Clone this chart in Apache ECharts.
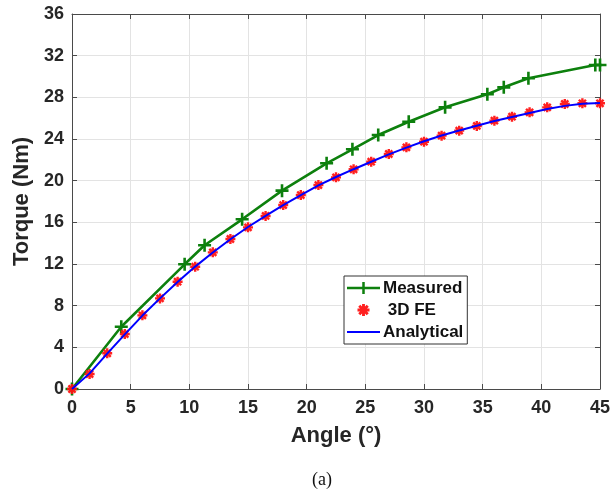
<!DOCTYPE html>
<html>
<head>
<meta charset="utf-8">
<script src="https://cdn.jsdelivr.net/npm/echarts@6/dist/echarts.min.js"></script>
<style>
html,body{margin:0;padding:0;background:#fff;}
#chart{width:613px;height:489px;}
</style>
</head>
<body>
<div id="chart"></div>
<script>
// ---- data ----
var measuredAngle  = [0, 4.2, 9.6, 11.3, 14.5, 17.9, 21.7, 23.9, 26.1, 28.7, 31.8, 35.4, 36.8, 38.9, 44.6, 45];
var measuredTorque = [0, 5.98, 11.97, 13.8, 16.29, 19.04, 21.67, 23.01, 24.38, 25.66, 27.04, 28.29, 28.96, 29.83, 31.1, 31.1];

var feAngle  = [0, 1.5, 3, 4.5, 6, 7.5, 9, 10.5, 12, 13.5, 15, 16.5, 18, 19.5, 21, 22.5, 24, 25.5, 27, 28.5, 30, 31.5, 33, 34.5, 36, 37.5, 39, 40.5, 42, 43.5, 45];
var feTorque = [0, 1.44, 3.43, 5.28, 7.07, 8.7, 10.3, 11.74, 13.12, 14.4, 15.52, 16.61, 17.66, 18.62, 19.58, 20.32, 21.09, 21.82, 22.56, 23.2, 23.74, 24.32, 24.8, 25.25, 25.76, 26.14, 26.56, 27.04, 27.36, 27.43, 27.43];

var analyticalAngle  = [0, 1.5, 3, 4.5, 6, 7.5, 9, 10.5, 12, 13.5, 15, 16.5, 18, 19.5, 21, 22.5, 24, 25.5, 27, 28.5, 30, 31.5, 33, 34.5, 36, 37.5, 39, 40.5, 42, 43.5, 45];
var analyticalTorque = [0, 1.5, 3.4, 5.25, 7.05, 8.7, 10.28, 11.75, 13.1, 14.38, 15.55, 16.62, 17.65, 18.62, 19.55, 20.35, 21.1, 21.82, 22.52, 23.17, 23.78, 24.33, 24.82, 25.28, 25.72, 26.12, 26.5, 26.88, 27.18, 27.38, 27.45];

var xTicks = [0, 5, 10, 15, 20, 25, 30, 35, 40, 45];
var yTicks = [0, 4, 8, 12, 16, 20, 24, 28, 32, 36];

var seriesNames = ['Measured', '3D FE', 'Analytical'];
var xTitle = 'Angle (°)';
var yTitle = 'Torque (Nm)';
var caption = '(a)';

function pairs(xs, ys) { return xs.map(function (x, i) { return [x, ys[i]]; }); }

var PLUS = 'path://M4,0H6V10H4Z M0,4H10V6H0Z';
var STAR = 'path://M3.8,0H6.2V10H3.8Z M0,3.8H10V6.2H0Z M0.61,2.31L2.31,0.61L9.39,7.69L7.69,9.39Z M7.69,0.61L9.39,2.31L2.31,9.39L0.61,7.69Z';
var LEGEND_LINE = 'path://M0,0H33V2H0Z';
var LEGEND_PLUS = 'path://M0,4.75H15.25V0H17.75V4.75H33V7.25H17.75V12H15.25V7.25H0Z';

var FONT = '"Liberation Sans", Arial, Helvetica, sans-serif';
var AX = '#4a4a4a';
var GREEN = '#0d800d', RED = '#ff1414', BLUE = '#0000ff';

var chart = echarts.init(document.getElementById('chart'), null, {renderer: 'canvas'});

var xMin = xTicks[0], xMax = xTicks[xTicks.length - 1], xInt = xTicks[1] - xTicks[0];
var yMin = yTicks[0], yMax = yTicks[yTicks.length - 1], yInt = yTicks[1] - yTicks[0];

var tickStyle = {show: true, inside: true, length: 5, lineStyle: {color: AX, width: 1}};
var lineStyleAx = {show: true, onZero: false, lineStyle: {color: AX, width: 1}};

chart.setOption({
  animation: false,
  backgroundColor: '#ffffff',
  grid: {left: 72, right: 12, top: 14, bottom: 100, containLabel: false},
  xAxis: [{
    type: 'value', min: xMin, max: xMax, interval: xInt, position: 'bottom',
    name: xTitle, nameLocation: 'middle', nameGap: 36,
    nameTextStyle: {fontFamily: FONT, fontWeight: 'bold', fontSize: 22, color: '#262626'},
    axisLine: lineStyleAx, axisTick: tickStyle,
    axisLabel: {margin: 10, fontFamily: FONT, fontWeight: 'bold', fontSize: 18, color: '#262626'},
    splitLine: {show: true, lineStyle: {color: '#e3e3e3', width: 1}}
  }, {
    type: 'value', min: xMin, max: xMax, interval: xInt, position: 'top',
    axisLine: lineStyleAx, axisTick: tickStyle, axisLabel: {show: false}, splitLine: {show: false}
  }],
  yAxis: [{
    type: 'value', min: yMin, max: yMax, interval: yInt, position: 'left',
    name: yTitle, nameLocation: 'middle', nameGap: 38, nameRotate: 90,
    nameTextStyle: {fontFamily: FONT, fontWeight: 'bold', fontSize: 22, color: '#262626'},
    axisLine: lineStyleAx, axisTick: tickStyle,
    axisLabel: {margin: 8, fontFamily: FONT, fontWeight: 'bold', fontSize: 18, color: '#262626'},
    splitLine: {show: true, lineStyle: {color: '#e3e3e3', width: 1}}
  }, {
    type: 'value', min: yMin, max: yMax, interval: yInt, position: 'right',
    axisLine: lineStyleAx, axisTick: tickStyle, axisLabel: {show: false}, splitLine: {show: false}
  }],
  legend: {
    orient: 'vertical', left: 344, top: 276,
    padding: [1, 4, 1, 3],
    itemWidth: 33, itemHeight: 12, itemGap: 0,
    backgroundColor: '#ffffff', borderColor: '#333333', borderWidth: 1,
    textStyle: {fontFamily: FONT, fontWeight: 'bold', fontSize: 17, color: '#111', lineHeight: 22, padding: [0, 0, 0, -2]},
    formatter: function (n) { return n === seriesNames[1] ? ' ' + n : n; },
    data: [
      {name: seriesNames[0], icon: LEGEND_PLUS},
      {name: seriesNames[1]},
      {name: seriesNames[2], icon: LEGEND_LINE}
    ]
  },
  series: [{
    name: seriesNames[0], type: 'line', data: pairs(measuredAngle, measuredTorque),
    symbol: PLUS, symbolSize: 13, showAllSymbol: true, smooth: false,
    lineStyle: {color: GREEN, width: 2.6}, itemStyle: {color: GREEN}, z: 2
  }, {
    name: seriesNames[1], type: 'scatter', data: pairs(feAngle, feTorque),
    symbol: STAR, symbolSize: 10, itemStyle: {color: RED, opacity: 0.95}, z: 3
  }, {
    name: seriesNames[2], type: 'line', data: pairs(analyticalAngle, analyticalTorque),
    symbol: 'none', showSymbol: false, smooth: false,
    lineStyle: {color: BLUE, width: 2}, itemStyle: {color: BLUE}, z: 4
  }],
  graphic: [{
    type: 'text', left: 312, top: 471,
    style: {text: caption, font: '18px "Liberation Serif", "Times New Roman", serif', fill: '#111'}
  }]
});
</script>
</body>
</html>
